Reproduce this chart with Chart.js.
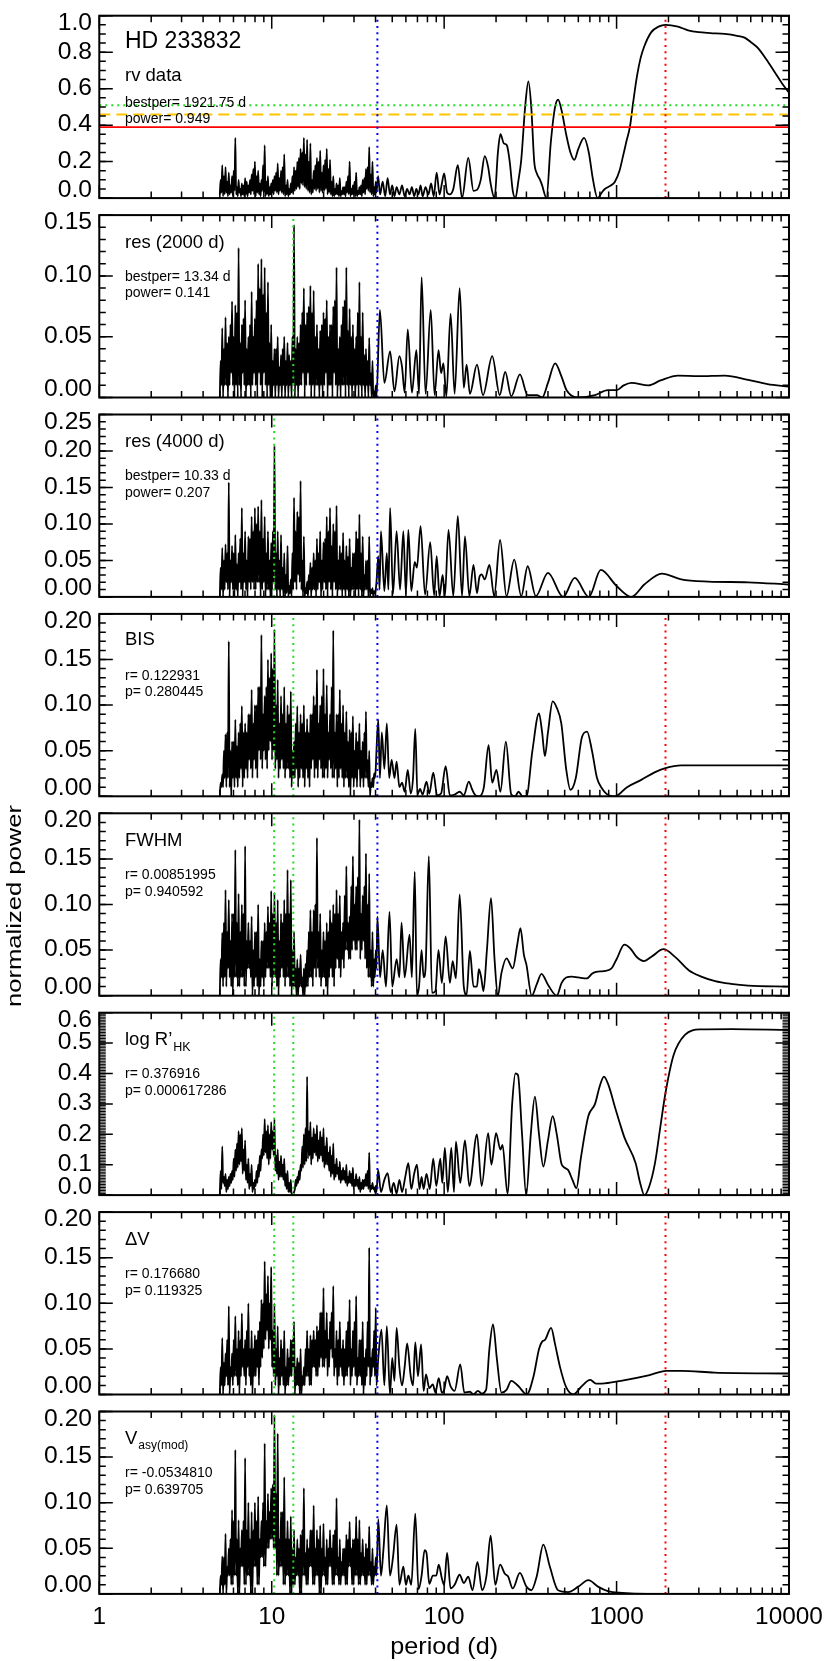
<!DOCTYPE html>
<html>
<head>
<meta charset="utf-8">
<script src="https://cdn.jsdelivr.net/npm/chart.js@4/dist/chart.umd.min.js"></script>
<style>
    html, body { margin: 0; padding: 0; background: #fff; }
    #wrap { position: relative; width: 830px; height: 1661px; overflow: hidden; }
    #wrap canvas { position: absolute; left: 0; top: 0; }
</style>
</head>
<body>
<div id="wrap"></div>
<script>
// 周期グリッド (5〜40 d の密な部分、全パネル共通)
const noisePeriod = [
    5.000, 5.055, 5.110, 5.166, 5.222, 5.280, 5.337, 5.396, 5.455, 5.515, 5.575, 5.636, 5.698, 5.760, 5.823, 5.887,
    5.952, 6.017, 6.083, 6.150, 6.217, 6.285, 6.354, 6.424, 6.494, 6.565, 6.637, 6.710, 6.783, 6.858, 6.933, 7.009,
    7.086, 7.163, 7.242, 7.321, 7.401, 7.482, 7.564, 7.647, 7.731, 7.815, 7.901, 7.987, 8.075, 8.163, 8.253, 8.343,
    8.434, 8.527, 8.620, 8.714, 8.810, 8.906, 9.004, 9.102, 9.202, 9.303, 9.404, 9.507, 9.611, 9.716, 9.823, 9.930,
    10.04, 10.15, 10.26, 10.37, 10.49, 10.60, 10.72, 10.83, 10.95, 11.07, 11.19, 11.32, 11.44, 11.57, 11.69, 11.82,
    11.95, 12.08, 12.21, 12.35, 12.48, 12.62, 12.76, 12.90, 13.04, 13.18, 13.33, 13.47, 13.62, 13.77, 13.92, 14.07,
    14.23, 14.38, 14.54, 14.70, 14.86, 15.03, 15.19, 15.36, 15.53, 15.70, 15.87, 16.04, 16.22, 16.40, 16.58, 16.76,
    16.94, 17.13, 17.32, 17.51, 17.70, 17.89, 18.09, 18.29, 18.49, 18.69, 18.90, 19.10, 19.31, 19.53, 19.74, 19.96,
    20.18, 20.40, 20.62, 20.85, 21.08, 21.31, 21.54, 21.78, 22.02, 22.26, 22.50, 22.75, 23.00, 23.25, 23.51, 23.76,
    24.02, 24.29, 24.55, 24.82, 25.10, 25.37, 25.65, 25.93, 26.22, 26.50, 26.79, 27.09, 27.39, 27.69, 27.99, 28.30,
    28.61, 28.92, 29.24, 29.56, 29.88, 30.21, 30.54, 30.88, 31.21, 31.56, 31.90, 32.25, 32.61, 32.96, 33.33, 33.69,
    34.06, 34.44, 34.81, 35.19, 35.58, 35.97, 36.36, 36.76, 37.16, 37.57, 37.98, 38.40, 38.82, 39.24, 39.67, 40.11,
];

// rv data
const rvNoise = [
    0.02, 0.10, 0.03, 0.18, 0.01, 0.12, 0.02, 0.17, 0.03, 0.09, 0.01, 0.14, 0.02, 0.07, 0.03, 0.12,
    0.01, 0.15, 0.04, 0.33, 0.02, 0.06, 0.01, 0.10, 0.03, 0.05, 0.01, 0.08, 0.02, 0.07, 0.01, 0.11,
    0.02, 0.09, 0.01, 0.07, 0.03, 0.10, 0.02, 0.13, 0.04, 0.16, 0.02, 0.20, 0.01, 0.12, 0.03, 0.15,
    0.02, 0.08, 0.01, 0.10, 0.04, 0.18, 0.03, 0.29, 0.01, 0.09, 0.02, 0.12, 0.01, 0.06, 0.02, 0.08,
    0.03, 0.10, 0.02, 0.12, 0.04, 0.14, 0.03, 0.19, 0.02, 0.11, 0.04, 0.15, 0.03, 0.17, 0.02, 0.24,
    0.01, 0.07, 0.02, 0.10, 0.01, 0.05, 0.02, 0.08, 0.03, 0.12, 0.02, 0.17, 0.04, 0.15, 0.05, 0.20,
    0.06, 0.22, 0.05, 0.27, 0.08, 0.25, 0.07, 0.33, 0.06, 0.24, 0.05, 0.32, 0.04, 0.20, 0.03, 0.30,
    0.02, 0.10, 0.03, 0.15, 0.05, 0.18, 0.04, 0.22, 0.05, 0.20, 0.03, 0.26, 0.04, 0.14, 0.03, 0.18,
    0.04, 0.21, 0.05, 0.27, 0.02, 0.16, 0.03, 0.21, 0.02, 0.09, 0.01, 0.12, 0.01, 0.05, 0.02, 0.08,
    0.02, 0.07, 0.01, 0.11, 0.01, 0.04, 0.02, 0.06, 0.02, 0.06, 0.01, 0.09, 0.03, 0.12, 0.02, 0.20,
    0.01, 0.05, 0.02, 0.07, 0.02, 0.09, 0.01, 0.14, 0.01, 0.04, 0.02, 0.06, 0.02, 0.07, 0.01, 0.10,
    0.03, 0.11, 0.02, 0.16, 0.05, 0.17, 0.04, 0.28, 0.03, 0.13, 0.02, 0.20, 0.01, 0.06, 0.02, 0.09,
];
const rvTail = [
    [40.5, 0.03], [41.4, 0.12], [42.5, 0.02], [44, 0.09], [45.5, 0.01], [47, 0.11], [48.5, 0.02],
    [50, 0.07], [51.5, 0.01], [53, 0.06], [55, 0.02], [57, 0.07], [59, 0.01], [61, 0.05], [63, 0.02],
    [65, 0.06], [67, 0.01], [69, 0.05], [71, 0.02], [73, 0.07], [75, 0.01], [78, 0.06], [81, 0.02],
    [84, 0.08], [87, 0.01], [90.5, 0.14], [94, 0.02], [97, 0.08], [100, 0.135], [104, 0.03], [108, 0.02],
    [113, 0.05], [120, 0.18], [127, 0.0], [138, 0.22], [148, 0.04], [155, 0.045], [163, 0.1], [172, 0.23],
    [180, 0.17], [186, 0.08], [196, 0.0], [205, 0.25], [212, 0.35], [222, 0.3], [231, 0.29], [240, 0.2],
    [250, 0.04], [259, 0.0], [270, 0.1], [280, 0.21], [295, 0.5], [308, 0.64], [320, 0.5], [333, 0.2],
    [345, 0.135], [360, 0.1], [370, 0.07], [392, 0.0], [415, 0.3], [440, 0.5], [458, 0.54], [480, 0.48],
    [510, 0.35], [540, 0.25], [569, 0.21], [600, 0.27], [648, 0.33], [690, 0.25], [730, 0.1], [776, 0.0],
    [820, 0.03], [855, 0.05], [930, 0.07], [978, 0.09], [1040, 0.15], [1090, 0.23], [1140, 0.31],
    [1195, 0.39], [1250, 0.53], [1314, 0.67], [1380, 0.77], [1445, 0.83], [1590, 0.91], [1750, 0.94],
    [1920, 0.95], [2270, 0.94], [2600, 0.92], [2990, 0.91], [3500, 0.905], [4240, 0.90], [5000, 0.89],
    [5530, 0.88], [6100, 0.85], [6650, 0.82], [7400, 0.76], [8270, 0.69], [9100, 0.63], [9950, 0.58],
];

// res (2000 d)
const res2000Noise = [
    0.00, 0.03, 0.01, 0.057, 0.00, 0.04, 0.01, 0.066, 0.01, 0.045, 0.00, 0.05, 0.01, 0.06, 0.02, 0.079,
    0.01, 0.05, 0.00, 0.076, 0.01, 0.07, 0.00, 0.123, 0.01, 0.045, 0.00, 0.06, 0.02, 0.065, 0.01, 0.08,
    0.00, 0.04, 0.01, 0.05, 0.01, 0.06, 0.00, 0.087, 0.01, 0.05, 0.02, 0.065, 0.01, 0.08, 0.00, 0.11,
    0.02, 0.09, 0.01, 0.114, 0.00, 0.085, 0.02, 0.107, 0.01, 0.07, 0.00, 0.095, 0.01, 0.045, 0.00, 0.06,
    0.00, 0.03, 0.01, 0.04, 0.00, 0.04, 0.01, 0.05, 0.00, 0.025, 0.01, 0.035, 0.00, 0.04, 0.01, 0.05,
    0.00, 0.03, 0.01, 0.045, 0.00, 0.035, 0.01, 0.03, 0.00, 0.05, 0.01, 0.142, 0.00, 0.04, 0.01, 0.05,
    0.00, 0.045, 0.01, 0.06, 0.01, 0.07, 0.02, 0.09, 0.00, 0.06, 0.01, 0.07, 0.02, 0.075, 0.01, 0.092,
    0.00, 0.07, 0.01, 0.088, 0.00, 0.05, 0.01, 0.06, 0.01, 0.04, 0.00, 0.055, 0.01, 0.06, 0.00, 0.07,
    0.01, 0.065, 0.02, 0.08, 0.00, 0.05, 0.01, 0.06, 0.01, 0.06, 0.00, 0.075, 0.02, 0.08, 0.01, 0.107,
    0.00, 0.04, 0.01, 0.05, 0.00, 0.06, 0.01, 0.075, 0.01, 0.08, 0.00, 0.107, 0.01, 0.055, 0.00, 0.073,
    0.01, 0.05, 0.00, 0.06, 0.01, 0.04, 0.00, 0.05, 0.01, 0.07, 0.00, 0.095, 0.01, 0.05, 0.00, 0.07,
    0.01, 0.035, 0.00, 0.04, 0.01, 0.03, 0.00, 0.049, 0.01, 0.02, 0.00, 0.03, 0.00, 0.005, 0.00, 0.01,
];
const res2000Tail = [
    [40.5, 0.0], [42.4, 0.072], [45, 0.012], [48.6, 0.038], [51.5, 0.005], [55, 0.034], [57, 0.025],
    [59, 0.004], [61.5, 0.056], [65, 0.004], [69, 0.039], [71.5, 0.003], [74, 0.099], [78, 0.003],
    [83.6, 0.072], [88, 0.002], [92.8, 0.039], [96, 0.02], [99, 0.028], [103, 0.001], [109, 0.069],
    [115, 0.003], [123, 0.09], [130, 0.008], [135, 0.027], [141, 0.003], [155, 0.027], [168, 0.002],
    [190, 0.034], [210, 0.002], [226, 0.021], [245, 0.001], [275, 0.019], [305, 0.002], [345, 0.002],
    [370, 0.0], [400, 0.012], [440, 0.028], [480, 0.017], [513, 0.006], [600, 0.0], [750, 0.002],
    [890, 0.006], [1000, 0.006], [1100, 0.01], [1220, 0.012], [1530, 0.010], [1800, 0.014],
    [2270, 0.018], [3000, 0.0175], [4240, 0.018], [5800, 0.0145], [7500, 0.011], [9950, 0.009],
];

// res (4000 d)
const res4000Noise = [
    0.00, 0.04, 0.01, 0.067, 0.00, 0.05, 0.01, 0.072, 0.02, 0.06, 0.01, 0.157, 0.00, 0.05, 0.02, 0.07,
    0.01, 0.06, 0.00, 0.085, 0.01, 0.045, 0.00, 0.06, 0.02, 0.08, 0.01, 0.122, 0.00, 0.06, 0.02, 0.09,
    0.01, 0.05, 0.00, 0.083, 0.02, 0.08, 0.01, 0.11, 0.02, 0.09, 0.01, 0.122, 0.01, 0.10, 0.02, 0.124,
    0.02, 0.09, 0.00, 0.133, 0.01, 0.08, 0.02, 0.11, 0.00, 0.06, 0.01, 0.09, 0.01, 0.05, 0.00, 0.074,
    0.01, 0.09, 0.02, 0.207, 0.01, 0.06, 0.00, 0.09, 0.01, 0.05, 0.00, 0.085, 0.01, 0.04, 0.00, 0.06,
    0.00, 0.03, 0.005, 0.07, 0.00, 0.015, 0.005, 0.024, 0.00, 0.06, 0.01, 0.136, 0.02, 0.09, 0.01, 0.117,
    0.03, 0.11, 0.02, 0.159, 0.01, 0.05, 0.00, 0.083, 0.00, 0.012, 0.005, 0.021, 0.00, 0.03, 0.01, 0.047,
    0.00, 0.04, 0.01, 0.06, 0.01, 0.05, 0.00, 0.08, 0.01, 0.06, 0.02, 0.09, 0.00, 0.05, 0.01, 0.075,
    0.02, 0.08, 0.01, 0.11, 0.00, 0.09, 0.02, 0.122, 0.01, 0.07, 0.00, 0.10, 0.02, 0.09, 0.01, 0.125,
    0.00, 0.05, 0.01, 0.07, 0.01, 0.06, 0.00, 0.088, 0.01, 0.05, 0.00, 0.07, 0.01, 0.055, 0.00, 0.08,
    0.00, 0.04, 0.01, 0.06, 0.01, 0.06, 0.00, 0.09, 0.01, 0.08, 0.00, 0.113, 0.01, 0.06, 0.00, 0.083,
    0.00, 0.03, 0.01, 0.05, 0.01, 0.05, 0.00, 0.083, 0.00, 0.01, 0.005, 0.012, 0.00, 0.008, 0.005, 0.01,
];
const res4000Tail = [
    [40.5, 0.02], [41.5, 0.056], [42.2, 0.01], [43, 0.09], [45, 0.008], [46.5, 0.06], [47.5, 0.01],
    [48.6, 0.122], [50.5, 0.004], [53, 0.09], [55.5, 0.01], [58, 0.09], [60, 0.004], [62, 0.092],
    [64.5, 0.008], [67.5, 0.048], [69.5, 0.04], [73, 0.097], [77.5, 0.003], [83, 0.075], [87.5, 0.002],
    [90.5, 0.056], [94, 0.001], [98, 0.03], [101, 0.001], [106, 0.092], [113, 0.001], [120, 0.111],
    [127, 0.001], [132, 0.083], [140, 0.001], [148, 0.044], [155, 0.005], [160, 0.027], [165, 0.031],
    [172, 0.024], [183, 0.044], [195, 0.001], [211, 0.078], [230, 0.001], [255, 0.051], [280, 0.001],
    [305, 0.042], [340, 0.001], [400, 0.033], [490, 0.0], [572, 0.026], [690, 0.0], [810, 0.037],
    [1000, 0.015], [1220, 0.0], [1450, 0.017], [1830, 0.032], [2370, 0.024], [3400, 0.021],
    [5800, 0.020], [9950, 0.017],
];

// BIS
const bisNoise = [
    0.00, 0.015, 0.01, 0.024, 0.01, 0.05, 0.02, 0.068, 0.01, 0.07, 0.02, 0.17, 0.01, 0.05, 0.00, 0.06,
    0.02, 0.06, 0.01, 0.084, 0.02, 0.055, 0.01, 0.07, 0.02, 0.08, 0.03, 0.099, 0.01, 0.07, 0.02, 0.08,
    0.03, 0.07, 0.02, 0.09, 0.04, 0.09, 0.03, 0.117, 0.02, 0.08, 0.04, 0.10, 0.03, 0.10, 0.02, 0.12,
    0.05, 0.12, 0.04, 0.177, 0.03, 0.09, 0.05, 0.11, 0.04, 0.12, 0.03, 0.15, 0.05, 0.13, 0.06, 0.157,
    0.04, 0.14, 0.05, 0.183, 0.03, 0.10, 0.04, 0.128, 0.02, 0.08, 0.03, 0.11, 0.04, 0.09, 0.03, 0.12,
    0.02, 0.08, 0.03, 0.10, 0.03, 0.09, 0.02, 0.115, 0.01, 0.05, 0.02, 0.06, 0.02, 0.08, 0.03, 0.099,
    0.01, 0.07, 0.02, 0.09, 0.03, 0.08, 0.02, 0.10, 0.01, 0.07, 0.03, 0.085, 0.02, 0.07, 0.01, 0.09,
    0.03, 0.09, 0.04, 0.11, 0.02, 0.10, 0.03, 0.139, 0.02, 0.08, 0.04, 0.10, 0.03, 0.11, 0.02, 0.14,
    0.02, 0.09, 0.03, 0.122, 0.02, 0.07, 0.04, 0.09, 0.03, 0.12, 0.02, 0.182, 0.02, 0.07, 0.03, 0.09,
    0.01, 0.09, 0.02, 0.117, 0.03, 0.08, 0.02, 0.10, 0.01, 0.07, 0.02, 0.093, 0.02, 0.06, 0.01, 0.073,
    0.00, 0.07, 0.02, 0.088, 0.01, 0.05, 0.02, 0.07, 0.01, 0.06, 0.03, 0.08, 0.01, 0.05, 0.02, 0.06,
    0.01, 0.07, 0.02, 0.093, 0.02, 0.04, 0.01, 0.05, 0.00, 0.015, 0.01, 0.02, 0.01, 0.025, 0.02, 0.03,
];
const bisTail = [
    [40.5, 0.05], [41.5, 0.084], [42.4, 0.02], [43.5, 0.07], [45, 0.03], [46.5, 0.08], [48, 0.02],
    [49.6, 0.04], [51.5, 0.02], [53, 0.038], [55, 0.01], [57, 0.015], [59, 0.005], [61.5, 0.029],
    [64, 0.003], [66, 0.02], [68, 0.074], [70, 0.002], [72.5, 0.008], [75, 0.002], [79, 0.016],
    [82, 0.003], [86.5, 0.026], [91, 0.001], [96, 0.003], [102, 0.033], [108, 0.001], [115, 0.002],
    [123, 0.005], [130, 0.001], [139, 0.016], [145, 0.008], [152, 0.001], [160, 0.0], [170, 0.01],
    [181, 0.056], [190, 0.015], [201, 0.029], [212, 0.005], [228, 0.06], [245, 0.002], [258, 0.0],
    [270, 0.005], [285, 0.0], [300, 0.0], [325, 0.05], [355, 0.091], [370, 0.07], [384, 0.044],
    [400, 0.07], [426, 0.104], [450, 0.097], [478, 0.08], [510, 0.03], [540, 0.007], [580, 0.02],
    [630, 0.065], [674, 0.071], [720, 0.05], [770, 0.02], [820, 0.009], [900, 0.001], [980, 0.0],
    [1150, 0.01], [1390, 0.018], [1650, 0.026], [1920, 0.031], [2370, 0.034], [3500, 0.034], [9950, 0.034],
];

// FWHM
const fwhmNoise = [
    0.00, 0.04, 0.02, 0.069, 0.01, 0.08, 0.02, 0.116, 0.01, 0.07, 0.03, 0.105, 0.02, 0.06, 0.01, 0.09,
    0.00, 0.09, 0.02, 0.16, 0.02, 0.08, 0.01, 0.112, 0.01, 0.07, 0.02, 0.10, 0.02, 0.09, 0.01, 0.164,
    0.01, 0.06, 0.03, 0.08, 0.03, 0.06, 0.02, 0.087, 0.00, 0.05, 0.01, 0.07, 0.02, 0.07, 0.01, 0.10,
    0.00, 0.04, 0.01, 0.06, 0.02, 0.06, 0.01, 0.08, 0.02, 0.07, 0.03, 0.098, 0.03, 0.08, 0.02, 0.115,
    0.01, 0.09, 0.02, 0.113, 0.02, 0.08, 0.01, 0.105, 0.00, 0.06, 0.02, 0.09, 0.03, 0.08, 0.02, 0.105,
    0.01, 0.09, 0.02, 0.138, 0.02, 0.09, 0.01, 0.127, 0.00, 0.05, 0.01, 0.07, 0.01, 0.03, 0.00, 0.04,
    0.00, 0.03, 0.01, 0.045, 0.01, 0.02, 0.00, 0.03, 0.00, 0.035, 0.01, 0.05, 0.01, 0.07, 0.02, 0.094,
    0.02, 0.07, 0.01, 0.094, 0.03, 0.10, 0.02, 0.173, 0.03, 0.07, 0.02, 0.09, 0.01, 0.05, 0.02, 0.07,
    0.02, 0.06, 0.01, 0.08, 0.00, 0.07, 0.02, 0.094, 0.03, 0.08, 0.02, 0.10, 0.01, 0.09, 0.03, 0.116,
    0.04, 0.09, 0.03, 0.11, 0.02, 0.07, 0.04, 0.08, 0.03, 0.11, 0.05, 0.142, 0.05, 0.08, 0.04, 0.087,
    0.04, 0.12, 0.05, 0.153, 0.06, 0.10, 0.05, 0.12, 0.05, 0.13, 0.06, 0.193, 0.04, 0.09, 0.05, 0.11,
    0.06, 0.12, 0.04, 0.156, 0.03, 0.10, 0.02, 0.134, 0.02, 0.05, 0.01, 0.07, 0.01, 0.04, 0.02, 0.05,
];
const fwhmTail = [
    [40.5, 0.03], [41, 0.087], [42.5, 0.02], [44, 0.05], [46, 0.01], [48.2, 0.092], [50, 0.01],
    [53, 0.04], [55, 0.02], [56.6, 0.08], [59, 0.02], [63, 0.067], [65, 0.02], [67.5, 0.136],
    [69.5, 0.001], [71.5, 0.01], [74, 0.05], [76, 0.02], [78, 0.03], [81.5, 0.153], [85, 0.003],
    [89, 0.005], [92.7, 0.05], [97, 0.014], [102, 0.065], [108, 0.014], [112, 0.038], [117, 0.019],
    [123, 0.111], [130, 0.01], [135, 0.001], [141, 0.049], [148, 0.01], [155, 0.01], [159, 0.029],
    [164, 0.02], [169, 0.005], [177, 0.05], [187, 0.107], [196, 0.04], [205, 0.0], [215, 0.025],
    [230, 0.041], [250, 0.03], [265, 0.055], [277, 0.074], [290, 0.045], [300, 0.034], [322, 0.0],
    [345, 0.013], [367, 0.024], [400, 0.012], [450, 0.0], [480, 0.014], [510, 0.02], [550, 0.021],
    [600, 0.02], [674, 0.019], [720, 0.024], [762, 0.026], [840, 0.027], [935, 0.03], [1000, 0.04],
    [1110, 0.056], [1200, 0.052], [1300, 0.043], [1440, 0.038], [1600, 0.043], [1870, 0.051],
    [2200, 0.042], [2620, 0.028], [3100, 0.021], [3730, 0.016], [4600, 0.013], [5800, 0.011], [9950, 0.010],
];

// log R'HK
const rhkNoise = [
    0.00, 0.08, 0.02, 0.16, 0.04, 0.06, 0.03, 0.07, 0.01, 0.05, 0.02, 0.06, 0.03, 0.07, 0.04, 0.08,
    0.05, 0.12, 0.06, 0.15, 0.08, 0.17, 0.09, 0.21, 0.10, 0.20, 0.11, 0.22, 0.07, 0.15, 0.08, 0.18,
    0.05, 0.10, 0.04, 0.12, 0.02, 0.07, 0.03, 0.10, 0.01, 0.04, 0.02, 0.05, 0.03, 0.08, 0.04, 0.10,
    0.06, 0.13, 0.08, 0.15, 0.12, 0.20, 0.13, 0.25, 0.14, 0.21, 0.12, 0.23, 0.10, 0.20, 0.12, 0.24,
    0.15, 0.21, 0.13, 0.25, 0.08, 0.13, 0.07, 0.15, 0.05, 0.11, 0.06, 0.13, 0.06, 0.10, 0.05, 0.12,
    0.03, 0.07, 0.02, 0.08, 0.01, 0.04, 0.01, 0.05, 0.00, 0.005, 0.00, 0.01, 0.02, 0.05, 0.03, 0.06,
    0.04, 0.08, 0.05, 0.10, 0.08, 0.16, 0.09, 0.20, 0.10, 0.22, 0.11, 0.39, 0.12, 0.21, 0.13, 0.24,
    0.10, 0.19, 0.12, 0.22, 0.14, 0.20, 0.13, 0.23, 0.11, 0.18, 0.12, 0.21, 0.13, 0.19, 0.11, 0.22,
    0.09, 0.16, 0.10, 0.19, 0.10, 0.14, 0.08, 0.16, 0.06, 0.13, 0.07, 0.17, 0.05, 0.10, 0.06, 0.12,
    0.07, 0.09, 0.05, 0.11, 0.04, 0.08, 0.05, 0.09, 0.05, 0.08, 0.04, 0.10, 0.03, 0.06, 0.04, 0.08,
    0.04, 0.07, 0.03, 0.09, 0.02, 0.05, 0.03, 0.07, 0.03, 0.05, 0.02, 0.06, 0.01, 0.04, 0.02, 0.05,
    0.02, 0.05, 0.03, 0.07, 0.03, 0.08, 0.02, 0.14, 0.01, 0.03, 0.02, 0.04, 0.02, 0.025, 0.01, 0.03,
];
const rhkTail = [
    [40.5, 0.01], [41.4, 0.083], [43, 0.01], [45, 0.05], [47, 0.072], [49, 0.01], [51, 0.04],
    [53, 0.005], [55, 0.05], [57, 0.01], [59.5, 0.06], [62, 0.105], [64.5, 0.02], [67, 0.07],
    [69.5, 0.1], [72, 0.02], [74, 0.06], [76, 0.02], [79, 0.07], [82.5, 0.02], [86.5, 0.12],
    [90, 0.03], [95, 0.12], [97.5, 0.04], [101, 0.155], [105, 0.01], [110, 0.155], [114, 0.01],
    [117, 0.176], [124, 0.04], [132, 0.18], [140, 0.03], [155, 0.2], [165, 0.03], [180, 0.204],
    [188, 0.1], [200, 0.204], [212, 0.15], [218, 0.165], [233, 0.005], [248, 0.3], [259, 0.40],
    [268, 0.395], [283, 0.2], [299, 0.0], [318, 0.2], [336, 0.324], [355, 0.2], [376, 0.094],
    [400, 0.18], [426, 0.26], [450, 0.2], [478, 0.105], [500, 0.09], [523, 0.083], [555, 0.05],
    [585, 0.023], [620, 0.12], [686, 0.26], [750, 0.30], [800, 0.36], [845, 0.39], [900, 0.36],
    [978, 0.29], [1040, 0.24], [1110, 0.19], [1290, 0.105], [1370, 0.04], [1450, 0.0], [1550, 0.03],
    [1670, 0.105], [1800, 0.23], [1920, 0.335], [2140, 0.46], [2490, 0.527], [3070, 0.545],
    [4660, 0.546], [9950, 0.543],
];

// ΔV
const dvNoise = [
    0.00, 0.03, 0.01, 0.062, 0.00, 0.035, 0.01, 0.045, 0.02, 0.06, 0.01, 0.097, 0.00, 0.03, 0.02, 0.045,
    0.01, 0.06, 0.02, 0.086, 0.02, 0.05, 0.01, 0.07, 0.00, 0.06, 0.02, 0.089, 0.03, 0.05, 0.02, 0.06,
    0.01, 0.07, 0.03, 0.10, 0.02, 0.05, 0.01, 0.07, 0.00, 0.05, 0.02, 0.065, 0.02, 0.06, 0.03, 0.07,
    0.01, 0.08, 0.03, 0.104, 0.04, 0.10, 0.05, 0.146, 0.06, 0.11, 0.07, 0.13, 0.05, 0.10, 0.06, 0.14,
    0.03, 0.07, 0.02, 0.10, 0.01, 0.05, 0.02, 0.075, 0.00, 0.04, 0.01, 0.06, 0.02, 0.05, 0.01, 0.07,
    0.00, 0.03, 0.01, 0.05, 0.01, 0.04, 0.02, 0.06, 0.02, 0.06, 0.03, 0.08, 0.00, 0.03, 0.01, 0.04,
    0.01, 0.035, 0.00, 0.05, 0.00, 0.02, 0.01, 0.03, 0.01, 0.05, 0.02, 0.07, 0.02, 0.05, 0.01, 0.065,
    0.01, 0.06, 0.03, 0.07, 0.03, 0.06, 0.02, 0.075, 0.02, 0.07, 0.03, 0.09, 0.04, 0.09, 0.03, 0.117,
    0.03, 0.07, 0.04, 0.09, 0.02, 0.06, 0.03, 0.08, 0.05, 0.09, 0.04, 0.119, 0.02, 0.05, 0.03, 0.07,
    0.01, 0.06, 0.02, 0.08, 0.03, 0.05, 0.02, 0.06, 0.01, 0.05, 0.02, 0.07, 0.02, 0.08, 0.03, 0.104,
    0.01, 0.05, 0.02, 0.07, 0.03, 0.08, 0.02, 0.108, 0.01, 0.04, 0.02, 0.06, 0.02, 0.06, 0.01, 0.08,
    0.00, 0.04, 0.01, 0.05, 0.02, 0.08, 0.03, 0.161, 0.01, 0.04, 0.02, 0.05, 0.03, 0.07, 0.02, 0.095,
];
const dvTail = [
    [40.5, 0.01], [41.5, 0.04], [43.3, 0.071], [45, 0.01], [46.5, 0.075], [48.5, 0.0], [50, 0.04],
    [51.5, 0.015], [53, 0.073], [55, 0.03], [57, 0.01], [59, 0.03], [61, 0.056], [64, 0.02],
    [66, 0.01], [68, 0.057], [70.5, 0.02], [73.5, 0.055], [76, 0.004], [78.5, 0.022], [82, 0.007],
    [86, 0.011], [89, 0.002], [93, 0.018], [97, 0.002], [100, 0.005], [104, 0.02], [109, 0.009],
    [115, 0.004], [124, 0.033], [131, 0.002], [141, 0.003], [148, 0.0], [157, 0.004], [165, 0.001],
    [175, 0.005], [183, 0.05], [192, 0.077], [202, 0.04], [215, 0.002], [230, 0.005], [245, 0.015],
    [270, 0.009], [301, 0.0], [330, 0.02], [355, 0.05], [370, 0.058], [385, 0.06], [417, 0.073],
    [440, 0.055], [470, 0.03], [510, 0.008], [562, 0.0], [620, 0.008], [704, 0.016], [760, 0.012],
    [820, 0.012], [1060, 0.015], [1530, 0.021], [1940, 0.026], [2370, 0.026], [3700, 0.024], [9950, 0.023],
];

// Vasy(mod)
const vasyNoise = [
    0.00, 0.02, 0.01, 0.041, 0.00, 0.04, 0.01, 0.066, 0.00, 0.03, 0.02, 0.05, 0.02, 0.06, 0.01, 0.092,
    0.01, 0.08, 0.02, 0.158, 0.02, 0.06, 0.00, 0.081, 0.00, 0.05, 0.03, 0.07, 0.03, 0.08, 0.01, 0.149,
    0.01, 0.07, 0.02, 0.10, 0.02, 0.06, 0.00, 0.09, 0.00, 0.07, 0.03, 0.10, 0.03, 0.08, 0.01, 0.107,
    0.01, 0.06, 0.04, 0.08, 0.04, 0.10, 0.03, 0.165, 0.03, 0.08, 0.05, 0.11, 0.05, 0.09, 0.06, 0.116,
    0.06, 0.12, 0.05, 0.196, 0.05, 0.11, 0.02, 0.176, 0.02, 0.06, 0.03, 0.09, 0.03, 0.09, 0.01, 0.128,
    0.01, 0.06, 0.02, 0.08, 0.02, 0.06, 0.00, 0.085, 0.00, 0.05, 0.01, 0.07, 0.01, 0.04, 0.02, 0.06,
    0.02, 0.05, 0.00, 0.065, 0.00, 0.07, 0.02, 0.116, 0.02, 0.045, 0.01, 0.06, 0.01, 0.05, 0.03, 0.07,
    0.03, 0.07, 0.01, 0.097, 0.01, 0.05, 0.02, 0.07, 0.02, 0.06, 0.00, 0.075, 0.00, 0.05, 0.02, 0.077,
    0.02, 0.04, 0.01, 0.06, 0.01, 0.05, 0.03, 0.07, 0.03, 0.05, 0.01, 0.065, 0.01, 0.07, 0.02, 0.105,
    0.02, 0.04, 0.01, 0.06, 0.01, 0.035, 0.02, 0.05, 0.02, 0.05, 0.01, 0.065, 0.01, 0.06, 0.03, 0.079,
    0.03, 0.05, 0.01, 0.06, 0.01, 0.06, 0.02, 0.085, 0.02, 0.06, 0.01, 0.081, 0.01, 0.045, 0.02, 0.06,
    0.02, 0.04, 0.01, 0.055, 0.01, 0.05, 0.02, 0.074, 0.02, 0.035, 0.01, 0.05, 0.01, 0.03, 0.02, 0.04,
];
const vasyTail = [
    [40.5, 0.02], [41.5, 0.082], [43, 0.02], [44.5, 0.05], [46.5, 0.097], [48.5, 0.02], [50.5, 0.04],
    [53, 0.076], [55, 0.01], [58, 0.03], [60, 0.01], [62, 0.02], [64.5, 0.01], [68, 0.088],
    [71, 0.005], [74, 0.02], [77, 0.048], [79, 0.045], [82, 0.011], [86, 0.02], [90, 0.02],
    [93, 0.032], [97, 0.017], [100, 0.01], [104, 0.045], [109, 0.006], [115, 0.01], [123, 0.021],
    [130, 0.012], [138, 0.019], [146, 0.004], [156, 0.035], [166, 0.004], [176, 0.02], [186, 0.064],
    [198, 0.01], [211, 0.032], [225, 0.022], [235, 0.019], [250, 0.006], [275, 0.023], [300, 0.008],
    [320, 0.004], [345, 0.02], [376, 0.054], [410, 0.03], [458, 0.004], [523, 0.002], [600, 0.008],
    [686, 0.015], [780, 0.008], [890, 0.003], [1080, 0.001], [1500, 0.0], [9950, 0.0],
];

// x 軸の目盛
const xTickValues = [1, 10, 100, 1000, 10000];
const xTickLabels = ['1', '10', '100', '1000', '10000'];

// 基準線
const bestPeriod = 1921.75;
const blueLinePeriod = 41.0;
const greenPeriods = [10.33, 13.34];
const rvLevels = [0.509, 0.459, 0.389];

const BLUE = '#0000ff';
const RED = '#ff0000';
const GREEN = '#22dd22';
const ORANGE = '#ffc400';
const FONT = '"Liberation Sans", Arial, Helvetica, sans-serif';

const PLOT_LEFT = 99.3;
const PLOT_RIGHT = 789;
const PANEL_TOP0 = 15.7;
const PANEL_STEP = 199.4;
const PANEL_H = 182.4;
const PAGE_W = 830;
const PAGE_H = 1661;

const vBlue = { period: blueLinePeriod, color: BLUE };
const vRed = { period: bestPeriod, color: RED };
const vGreen1 = { period: greenPeriods[0], color: GREEN };
const vGreen2 = { period: greenPeriods[1], color: GREEN };

const panels = [
    {
        noise: rvNoise, tail: rvTail, ymax: 1.0, major: 0.2, minorPerMajor: 4, digits: 1,
        vlines: [vBlue, vRed],
        hlines: [
            { value: rvLevels[0], color: GREEN, dash: [2, 4], width: 2 },
            { value: rvLevels[1], color: ORANGE, dash: [11, 6], width: 2 },
            { value: rvLevels[2], color: RED, dash: [], width: 1.7 },
        ],
        texts: [
            { text: 'HD 233832', dy: 26, size: 23 },
            { text: 'rv data', dy: 60.5, size: 18.5 },
            { text: 'bestper= 1921.75 d', dy: 87.6, size: 14 },
            { text: 'power= 0.949', dy: 103.6, size: 14 },
        ],
    },
    {
        noise: res2000Noise, tail: res2000Tail, ymax: 0.15, major: 0.05, minorPerMajor: 5, digits: 2,
        vlines: [vGreen2, vBlue], hlines: [],
        texts: [
            { text: 'res (2000 d)', dy: 27.5, size: 18.5 },
            { text: 'bestper= 13.34 d', dy: 62, size: 14 },
            { text: 'power= 0.141', dy: 78.5, size: 14 },
        ],
    },
    {
        noise: res4000Noise, tail: res4000Tail, ymax: 0.25, major: 0.05, minorPerMajor: 5, digits: 2,
        vlines: [vGreen1, vBlue], hlines: [],
        texts: [
            { text: 'res (4000 d)', dy: 27, size: 18.5 },
            { text: 'bestper= 10.33 d', dy: 62, size: 14 },
            { text: 'power= 0.207', dy: 78.5, size: 14 },
        ],
    },
    {
        noise: bisNoise, tail: bisTail, ymax: 0.20, major: 0.05, minorPerMajor: 5, digits: 2,
        vlines: [vGreen1, vGreen2, vBlue, vRed], hlines: [],
        texts: [
            { text: 'BIS', dy: 26.5, size: 18.5 },
            { text: 'r= 0.122931', dy: 62, size: 14 },
            { text: 'p= 0.280445', dy: 78.5, size: 14 },
        ],
    },
    {
        noise: fwhmNoise, tail: fwhmTail, ymax: 0.20, major: 0.05, minorPerMajor: 5, digits: 2,
        vlines: [vGreen1, vGreen2, vBlue, vRed], hlines: [],
        texts: [
            { text: 'FWHM', dy: 27.4, size: 18.5 },
            { text: 'r= 0.00851995', dy: 61.7, size: 14 },
            { text: 'p= 0.940592', dy: 78.4, size: 14 },
        ],
    },
    {
        noise: rhkNoise, tail: rhkTail, ymax: 0.6, major: 0.1, minorPerMajor: 20, digits: 1,
        vlines: [vGreen1, vGreen2, vBlue, vRed], hlines: [],
        texts: [
            { text: 'log R\u2019', dy: 27.3, size: 18.5, sub: 'HK', subDy: 34.6, subSize: 12.5 },
            { text: 'r= 0.376916', dy: 61.6, size: 14 },
            { text: 'p= 0.000617286', dy: 78.3, size: 14 },
        ],
    },
    {
        noise: dvNoise, tail: dvTail, ymax: 0.20, major: 0.05, minorPerMajor: 5, digits: 2,
        vlines: [vGreen1, vGreen2, vBlue, vRed], hlines: [],
        texts: [
            { text: '\u0394V', dy: 27.9, size: 18.5 },
            { text: 'r= 0.176680', dy: 61.9, size: 14 },
            { text: 'p= 0.119325', dy: 78.6, size: 14 },
        ],
    },
    {
        noise: vasyNoise, tail: vasyTail, ymax: 0.20, major: 0.05, minorPerMajor: 5, digits: 2,
        vlines: [vGreen1, vGreen2, vBlue, vRed], hlines: [],
        texts: [
            { text: 'V', dy: 27.8, size: 18.5, sub: 'asy(mod)', subDy: 34.5, subSize: 12 },
            { text: 'r= -0.0534810', dy: 61.8, size: 14 },
            { text: 'p= 0.639705', dy: 78.5, size: 14 },
        ],
    },
];

/**
 * 横方向に伸縮したテキストを描画します。
 */
const drawText = (ctx, text, x, y, size, align, sx) => {
    ctx.save();
    ctx.font = size + 'px ' + FONT;
    ctx.fillStyle = '#000';
    ctx.textBaseline = 'middle';
    ctx.textAlign = align;
    ctx.translate(x, y);
    ctx.scale(sx, 1);
    ctx.fillText(text, 0, 0);
    ctx.restore();
};

/**
 * 基準線・枠・目盛・ラベルを描画するプラグインです。
 */
const panelPlugin = {
    id: 'panelDecor',
    afterDatasetsDraw(chart, args, opts) {
        const ctx = chart.ctx;
        const a = chart.chartArea;
        const x = chart.scales.x;
        const y = chart.scales.y;
        const p = opts.panel;

        ctx.save();

        // 水平線
        p.hlines.forEach((h) => {
            const py = y.getPixelForValue(h.value);
            ctx.beginPath();
            ctx.strokeStyle = h.color;
            ctx.lineWidth = h.width;
            ctx.setLineDash(h.dash);
            ctx.moveTo(a.left, py);
            ctx.lineTo(a.right, py);
            ctx.stroke();
        });

        // 垂直線
        p.vlines.forEach((v) => {
            const px = x.getPixelForValue(v.period);
            ctx.beginPath();
            ctx.strokeStyle = v.color;
            ctx.lineWidth = 2;
            ctx.setLineDash([2, 4.3]);
            ctx.moveTo(px, a.bottom);
            ctx.lineTo(px, a.top);
            ctx.stroke();
        });
        ctx.setLineDash([]);

        // 枠
        ctx.strokeStyle = '#000';
        ctx.lineWidth = 2;
        ctx.strokeRect(a.left, a.top, a.right - a.left, a.bottom - a.top);

        // x 目盛 (対数)
        ctx.lineWidth = 1.5;
        ctx.beginPath();
        for (let d = 1; d <= 10000; d *= 10) {
            for (let m = 1; m <= 9; m++) {
                const v = d * m;
                if (v > 10000) break;
                const px = x.getPixelForValue(v);
                const len = m === 1 ? 13 : 6.5;
                ctx.moveTo(px, a.top);
                ctx.lineTo(px, a.top + len);
                ctx.moveTo(px, a.bottom);
                ctx.lineTo(px, a.bottom - len);
            }
        }
        ctx.stroke();

        // y 目盛
        const n = Math.round(p.ymax / p.major * p.minorPerMajor);
        const step = p.major / p.minorPerMajor;
        ctx.beginPath();
        ctx.lineWidth = p.minorPerMajor > 10 ? 1 : 1.5;
        for (let k = 0; k <= n; k++) {
            const py = y.getPixelForValue(k * step);
            ctx.moveTo(a.left, py);
            ctx.lineTo(a.left + 6.5, py);
            ctx.moveTo(a.right, py);
            ctx.lineTo(a.right - 6.5, py);
        }
        ctx.stroke();
        ctx.lineWidth = 1.5;
        ctx.beginPath();
        for (let k = 0; k <= n; k += p.minorPerMajor) {
            const py = y.getPixelForValue(k * step);
            ctx.moveTo(a.left, py);
            ctx.lineTo(a.left + 13.5, py);
            ctx.moveTo(a.right, py);
            ctx.lineTo(a.right - 13.5, py);
        }
        ctx.stroke();

        // y ラベル
        for (let k = 0; k <= n; k += p.minorPerMajor) {
            const v = k * step;
            const py = Math.min(Math.max(y.getPixelForValue(v), a.top + 7.8), a.bottom - 7.8);
            drawText(ctx, v.toFixed(p.digits), 92, py, 23, 'right', 1.07);
        }

        // パネル内テキスト
        p.texts.forEach((t) => {
            drawText(ctx, t.text, 125, a.top + t.dy, t.size, 'left', 1);
            if (t.sub) {
                ctx.font = t.size + 'px ' + FONT;
                const w = ctx.measureText(t.text).width;
                drawText(ctx, t.sub, 125 + w + 1, a.top + t.subDy, t.subSize, 'left', 1);
            }
        });

        // 最下段: x ラベルと軸タイトル
        if (opts.last) {
            xTickValues.forEach((v, i) => {
                drawText(ctx, xTickLabels[i], x.getPixelForValue(v), 1618, 23, 'center', 1.06);
            });
            drawText(ctx, 'period (d)', (a.left + a.right) / 2, 1647, 24, 'center', 1.05);
            ctx.save();
            ctx.translate(15, 906);
            ctx.rotate(-Math.PI / 2);
            drawText(ctx, 'normalized power', 0, 0, 20, 'center', 1.28);
            ctx.restore();
        }

        ctx.restore();
    },
};

/**
 * パネルのグラフを生成します。
 */
const createPanel = (p, i) => {
    const canvas = document.createElement('canvas');
    canvas.width = PAGE_W;
    canvas.height = PAGE_H;
    document.getElementById('wrap').appendChild(canvas);

    const top = PANEL_TOP0 + PANEL_STEP * i;
    const data = noisePeriod.map((period, k) => ({ x: period, y: p.noise[k] }))
        .concat(p.tail.map((pt) => ({ x: pt[0], y: pt[1] })));

    const config = {
        type: 'line',
        data: {
            datasets: [
                {
                    data: data,
                    borderColor: '#000',
                    borderWidth: 1.8,
                    pointRadius: 0,
                    fill: false,
                    cubicInterpolationMode: 'monotone',
                },
            ],
        },
        options: {
            responsive: false,
            animation: false,
            events: [],
            layout: {
                padding: {
                    left: PLOT_LEFT,
                    right: PAGE_W - PLOT_RIGHT,
                    top: top,
                    bottom: PAGE_H - top - PANEL_H,
                },
            },
            plugins: {
                legend: { display: false },
                tooltip: { enabled: false },
                panelDecor: { panel: p, last: i === panels.length - 1 },
            },
            scales: {
                x: { type: 'logarithmic', min: 1, max: 10000, display: false },
                y: { type: 'linear', min: 0, max: p.ymax, display: false },
            },
        },
        plugins: [panelPlugin],
    };

    return new Chart(canvas, config);
};

panels.forEach((p, i) => {
    createPanel(p, i);
});
</script>
</body>
</html>
